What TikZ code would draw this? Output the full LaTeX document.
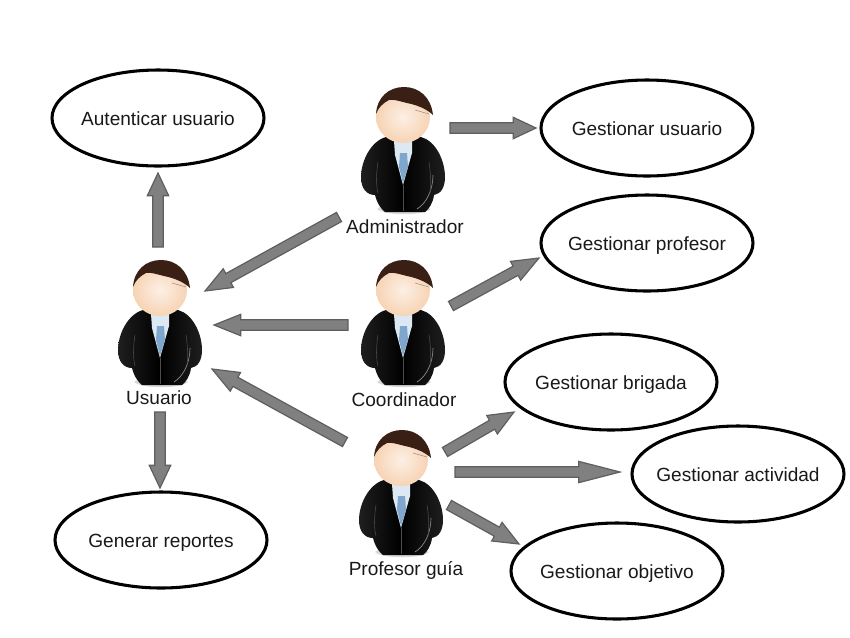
\documentclass[tikz,border=0pt]{standalone}
\usepackage{fontspec}
\setmainfont{Liberation Sans}
\usetikzlibrary{shapes.geometric,calc}
\definecolor{arrowfill}{HTML}{808080}
\definecolor{arrowline}{HTML}{5E5E5E}
\definecolor{hairc}{HTML}{3A1F14}
\definecolor{skinc}{HTML}{F7D3B4}
\definecolor{tiec}{HTML}{7FA6CC}
\definecolor{shirtc}{HTML}{DCE8F2}
\tikzset{
  usecase/.style={draw=black,line width=2.3pt,ellipse,fill=white,minimum width=159pt,minimum height=72pt,inner sep=-30pt,text height=12.5pt,text depth=1.5pt,font=\fontsize{14.3pt}{17pt}\selectfont,text=black!90},
  actorlabel/.style={inner sep=0pt,text height=12.5pt,text depth=1.5pt,font=\fontsize{14.3pt}{17pt}\selectfont,text=black!90},
  blockarrow/.style={draw=arrowline,fill=arrowfill,line width=.9pt,line join=miter},
  person/.pic={
    % soft ground shadow
    \fill[black!15] (-26,92) .. controls (-18,99) and (20,99) .. (28,92) -- (20,88) -- (-20,88) -- cycle;
    % jacket
    \path[left color=black!88,right color=black!88,middle color=black]
      (-17,20) .. controls (-32,24) and (-42,44) .. (-42,60)
      .. controls (-42,72) and (-36,78) .. (-28,78)
      .. controls (-26,86) and (-22,92) .. (-18,95)
      -- (22,95) .. controls (26,92) and (30,86) .. (31,78)
      .. controls (38,77) and (42,70) .. (42,60)
      .. controls (42,44) and (33,24) .. (18,20) -- cycle;
    % jacket highlights
    \draw[black!45,line width=.5pt] (30,58) .. controls (30,72) and (24,86) .. (14,92);
    \draw[black!70,line width=.4pt] (0,68) -- (0,94);
    \draw[black!70,line width=.4pt] (-25,45) .. controls (-27,58) and (-27,68) .. (-25,76);
    \draw[black!70,line width=.4pt] (26,45) .. controls (28,58) and (28,68) .. (27,76);
    % shirt and tie
    \fill[shirtc] (-9,24) -- (9,24) -- (9,36) -- (0,68) -- (-8,38) -- cycle;
    \fill[tiec] (-3,36) -- (4,36) -- (5,50) -- (0,66) -- (-4,50) -- cycle;
    % face
    \shade[inner color=skinc!35!white,outer color=skinc] (0,0) ellipse[x radius=27,y radius=26];
    % hair
    \fill[hairc] (-27,-3) .. controls (-26,-20) and (-14,-30) .. (1,-30)
      .. controls (16,-30) and (28,-20) .. (30,-2)
      .. controls (24,-8) and (14,-12) .. (4,-14)
      .. controls (-4,-16) and (-10,-18) .. (-14,-17)
      .. controls (-20,-14) and (-25,-9) .. (-27,-3) -- cycle;
    \draw[hairc!50!white,line width=.4pt] (12,-7) -- (26,-3);
  }
}
\newcommand{\blockarrowdraw}[3]{%
  \draw[blockarrow]
    ($(#1)!3.9pt!90:(#2)$) --
    ($($(#2)!#3!(#1)$)!3.9pt!90:(#2)$) --
    ($($(#2)!#3!(#1)$)!8pt!90:(#2)$) --
    (#2) --
    ($($(#2)!#3!(#1)$)!8pt!-90:(#2)$) --
    ($($(#2)!#3!(#1)$)!3.9pt!-90:(#2)$) --
    ($(#1)!3.9pt!-90:(#2)$) -- cycle;%
}
\begin{document}
\begin{tikzpicture}[x=.75pt,y=-.75pt]
\useasboundingbox (0,0) rectangle (850,637);

% use cases
\node[usecase] (auth) at (158,118) {Autenticar usuario};
\node[usecase] (guser) at (647,128) {Gestionar usuario};
\node[usecase] (gprof) at (647,243) {Gestionar profesor};
\node[usecase] (gbrig) at (611,382) {Gestionar brigada};
\node[usecase] (gact) at (738,474) {Gestionar actividad};
\node[usecase] (gobj) at (617,571) {Gestionar objetivo};
\node[usecase] (grep) at (161,540) {Generar reportes};

% actors
\pic at (403,117) {person};
\pic at (403,290) {person};
\pic at (401,460) {person};
\pic at (160,290) {person};
\node[actorlabel] (ladmin) at (405,226) {Administrador};
\node[actorlabel] (lcoord) at (404,399) {Coordinador};
\node[actorlabel] (lprof) at (406,568) {Profesor guía};
\node[actorlabel] (luser) at (159,397) {Usuario};

% connector ends
\coordinate (a1s) at (158,247); \coordinate (a1e) at (158,173);
\coordinate (a2s) at (160,412); \coordinate (a2e) at (160,488);
\coordinate (a3s) at (450,128); \coordinate (a3e) at (536,128);
\coordinate (a4s) at (451,306); \coordinate (a4e) at (539,258);
\coordinate (a5s) at (339,217); \coordinate (a5e) at (205,291);
\coordinate (a6s) at (348,325); \coordinate (a6e) at (214,325);
\coordinate (a7s) at (345,442); \coordinate (a7e) at (212,369);
\coordinate (a8s) at (445,452); \coordinate (a8e) at (514,412);
\coordinate (a9s) at (455,472); \coordinate (a9e) at (620,472);
\coordinate (a10s) at (449,505); \coordinate (a10e) at (519,544);

\blockarrowdraw{a1s}{a1e}{17pt}
\blockarrowdraw{a2s}{a2e}{17pt}
\blockarrowdraw{a3s}{a3e}{17pt}
\blockarrowdraw{a4s}{a4e}{20pt}
\blockarrowdraw{a5s}{a5e}{20pt}
\blockarrowdraw{a6s}{a6e}{20pt}
\blockarrowdraw{a7s}{a7e}{20pt}
\blockarrowdraw{a8s}{a8e}{19pt}
\blockarrowdraw{a9s}{a9e}{31pt}
\blockarrowdraw{a10s}{a10e}{19pt}
\end{tikzpicture}
\end{document}
